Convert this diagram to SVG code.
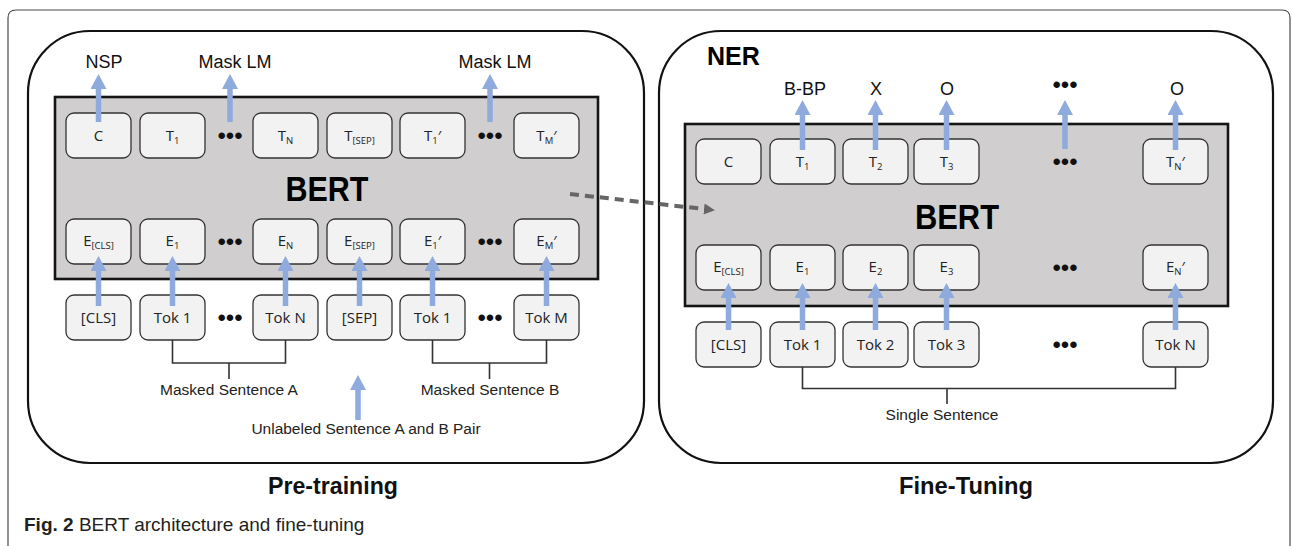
<svg xmlns="http://www.w3.org/2000/svg" width="1292" height="546" viewBox="0 0 1292 546">
  <defs>
    <style>
      .frame { fill: none; stroke: #4a4a4a; stroke-width: 1.2; }
      .panel { fill: #ffffff; stroke: #111111; stroke-width: 2.2; }
      .bert { fill: #d0cece; stroke: #151515; stroke-width: 2.6; }
      .box { fill: #f2f2f2; stroke: #333333; stroke-width: 1.3; }
      .tk { font-family: "Open Sans", "Noto Sans", sans-serif; font-size: 15px; fill: #222222; text-anchor: middle; }
      .sub { font-size: 9.5px; }
      .lbl { font-family: "Liberation Sans", Arial, sans-serif; font-size: 18px; fill: #111111; text-anchor: middle; }
      .sm { font-family: "Liberation Sans", Arial, sans-serif; font-size: 15.5px; fill: #222222; text-anchor: middle; }
      .big { font-family: "Liberation Sans", Arial, sans-serif; font-weight: bold; font-size: 35px; fill: #000000; text-anchor: middle; }
      .title { font-family: "Liberation Sans", Arial, sans-serif; font-weight: bold; font-size: 23.5px; fill: #111111; text-anchor: middle; }
      .ner { font-family: "Liberation Sans", Arial, sans-serif; font-weight: bold; font-size: 25px; fill: #000000; }
      .dots { font-family: "Liberation Sans", Arial, sans-serif; font-size: 24px; fill: #111111; text-anchor: middle; }
      .cap { font-family: "Liberation Sans", Arial, sans-serif; font-size: 19px; fill: #231f20; }
      .arrow { fill: none; stroke: #8faadc; stroke-width: 5.5; marker-end: url(#blueHead); }
      .bracket { fill: none; stroke: #333333; stroke-width: 1.6; }
      .dash { fill: none; stroke: #666666; stroke-width: 4; stroke-dasharray: 9 6; marker-end: url(#grayHead); }
    </style>
    <marker id="blueHead" markerUnits="userSpaceOnUse" markerWidth="15" markerHeight="16" refX="0" refY="8" orient="auto">
      <path d="M0,0 L15,8 L0,16 z" fill="#8faadc"/>
    </marker>
    <marker id="grayHead" markerUnits="userSpaceOnUse" markerWidth="11" markerHeight="11" refX="0" refY="5.5" orient="auto">
      <path d="M0,0 L11,5.5 L0,11 z" fill="#666666"/>
    </marker>
  </defs>

  <!-- figure frame -->
  <path class="frame" d="M8,546 V18 Q8,10 16,10 H1282 Q1290,10 1290,18 V546"/>

  <!-- ===== Pre-training panel ===== -->
  <g id="pretrain-panel">
    <rect class="panel" x="28" y="31" width="616" height="432" rx="62" ry="62"/>
    <text class="title" x="333" y="494" textLength="130" lengthAdjust="spacingAndGlyphs">Pre-training</text>
  </g>

  <g id="pretrain-bert">
    <rect class="bert" x="55" y="97" width="543" height="182"/>
    <text class="big" x="327" y="201" textLength="83" lengthAdjust="spacingAndGlyphs">BERT</text>
  </g>

  <!-- output row -->
  <g id="pt-C"><rect class="box" x="66" y="113" width="65" height="45" rx="8"/><text class="tk" x="98.5" y="141">C</text></g>
  <g id="pt-T1"><rect class="box" x="140" y="113" width="65" height="45" rx="8"/><text class="tk" x="172.5" y="141">T<tspan class="sub" dy="3">1</tspan></text></g>
  <g id="pt-TN"><rect class="box" x="253" y="113" width="65" height="45" rx="8"/><text class="tk" x="285.5" y="141">T<tspan class="sub" dy="3">N</tspan></text></g>
  <g id="pt-TSEP"><rect class="box" x="327" y="113" width="65" height="45" rx="8"/><text class="tk" x="359.5" y="141">T<tspan class="sub" dy="3">[SEP]</tspan></text></g>
  <g id="pt-T1p"><rect class="box" x="400" y="113" width="65" height="45" rx="8"/><text class="tk" x="432.5" y="141">T<tspan class="sub" dy="3">1</tspan><tspan dy="-3">′</tspan></text></g>
  <g id="pt-TMp"><rect class="box" x="514" y="113" width="65" height="45" rx="8"/><text class="tk" x="546.5" y="141">T<tspan class="sub" dy="3">M</tspan><tspan dy="-3">′</tspan></text></g>
  <text class="dots" x="230" y="144">•••</text>
  <text class="dots" x="490" y="144">•••</text>

  <!-- embedding row -->
  <g id="pt-ECLS"><rect class="box" x="66" y="219" width="65" height="45" rx="8"/><text class="tk" x="98.5" y="246">E<tspan class="sub" dy="3">[CLS]</tspan></text></g>
  <g id="pt-E1"><rect class="box" x="140" y="219" width="65" height="45" rx="8"/><text class="tk" x="172.5" y="246">E<tspan class="sub" dy="3">1</tspan></text></g>
  <g id="pt-EN"><rect class="box" x="253" y="219" width="65" height="45" rx="8"/><text class="tk" x="285.5" y="246">E<tspan class="sub" dy="3">N</tspan></text></g>
  <g id="pt-ESEP"><rect class="box" x="327" y="219" width="65" height="45" rx="8"/><text class="tk" x="359.5" y="246">E<tspan class="sub" dy="3">[SEP]</tspan></text></g>
  <g id="pt-E1p"><rect class="box" x="400" y="219" width="65" height="45" rx="8"/><text class="tk" x="432.5" y="246">E<tspan class="sub" dy="3">1</tspan><tspan dy="-3">′</tspan></text></g>
  <g id="pt-EMp"><rect class="box" x="514" y="219" width="65" height="45" rx="8"/><text class="tk" x="546.5" y="246">E<tspan class="sub" dy="3">M</tspan><tspan dy="-3">′</tspan></text></g>
  <text class="dots" x="230" y="250">•••</text>
  <text class="dots" x="490" y="250">•••</text>

  <!-- token row -->
  <g id="pt-CLS"><rect class="box" x="66" y="295" width="65" height="45" rx="8"/><text class="tk" x="98.5" y="323">[CLS]</text></g>
  <g id="pt-Tok1"><rect class="box" x="140" y="295" width="65" height="45" rx="8"/><text class="tk" x="172.5" y="323">Tok 1</text></g>
  <g id="pt-TokN"><rect class="box" x="253" y="295" width="65" height="45" rx="8"/><text class="tk" x="285.5" y="323">Tok N</text></g>
  <g id="pt-SEP"><rect class="box" x="327" y="295" width="65" height="45" rx="8"/><text class="tk" x="359.5" y="323">[SEP]</text></g>
  <g id="pt-Tok1b"><rect class="box" x="400" y="295" width="65" height="45" rx="8"/><text class="tk" x="432.5" y="323">Tok 1</text></g>
  <g id="pt-TokM"><rect class="box" x="514" y="295" width="65" height="45" rx="8"/><text class="tk" x="546.5" y="323">Tok M</text></g>
  <text class="dots" x="230" y="326">•••</text>
  <text class="dots" x="490" y="326">•••</text>

  <!-- pre-training labels -->
  <g id="pt-labels">
    <text class="lbl" x="104" y="68">NSP</text>
    <text class="lbl" x="235" y="68">Mask LM</text>
    <text class="lbl" x="495" y="68">Mask LM</text>
    <text class="sm" x="229" y="395">Masked Sentence A</text>
    <text class="sm" x="490" y="395">Masked Sentence B</text>
    <text class="sm" x="366" y="434">Unlabeled Sentence A and B Pair</text>
  </g>

  <!-- ===== Fine-Tuning panel ===== -->
  <g id="finetune-panel">
    <rect class="panel" x="659" y="31" width="614" height="432" rx="62" ry="62"/>
    <text class="ner" x="707" y="65">NER</text>
    <text class="title" x="966" y="494" textLength="134" lengthAdjust="spacingAndGlyphs">Fine-Tuning</text>
  </g>

  <g id="finetune-bert">
    <rect class="bert" x="685" y="124" width="543" height="182"/>
    <text class="big" x="957" y="229" textLength="84" lengthAdjust="spacingAndGlyphs">BERT</text>
  </g>

  <!-- output row -->
  <g id="ft-C"><rect class="box" x="696" y="139" width="65" height="45" rx="8"/><text class="tk" x="728.5" y="167">C</text></g>
  <g id="ft-T1"><rect class="box" x="770" y="139" width="65" height="45" rx="8"/><text class="tk" x="802.5" y="167">T<tspan class="sub" dy="3">1</tspan></text></g>
  <g id="ft-T2"><rect class="box" x="843" y="139" width="65" height="45" rx="8"/><text class="tk" x="875.5" y="167">T<tspan class="sub" dy="3">2</tspan></text></g>
  <g id="ft-T3"><rect class="box" x="914" y="139" width="65" height="45" rx="8"/><text class="tk" x="946.5" y="167">T<tspan class="sub" dy="3">3</tspan></text></g>
  <g id="ft-TNp"><rect class="box" x="1143" y="139" width="65" height="45" rx="8"/><text class="tk" x="1175.5" y="167">T<tspan class="sub" dy="3">N</tspan><tspan dy="-3">′</tspan></text></g>
  <text class="dots" x="1065" y="170">•••</text>

  <!-- embedding row -->
  <g id="ft-ECLS"><rect class="box" x="696" y="245" width="65" height="45" rx="8"/><text class="tk" x="728.5" y="272">E<tspan class="sub" dy="3">[CLS]</tspan></text></g>
  <g id="ft-E1"><rect class="box" x="770" y="245" width="65" height="45" rx="8"/><text class="tk" x="802.5" y="272">E<tspan class="sub" dy="3">1</tspan></text></g>
  <g id="ft-E2"><rect class="box" x="843" y="245" width="65" height="45" rx="8"/><text class="tk" x="875.5" y="272">E<tspan class="sub" dy="3">2</tspan></text></g>
  <g id="ft-E3"><rect class="box" x="914" y="245" width="65" height="45" rx="8"/><text class="tk" x="946.5" y="272">E<tspan class="sub" dy="3">3</tspan></text></g>
  <g id="ft-ENp"><rect class="box" x="1143" y="245" width="65" height="45" rx="8"/><text class="tk" x="1175.5" y="272">E<tspan class="sub" dy="3">N</tspan><tspan dy="-3">′</tspan></text></g>
  <text class="dots" x="1065" y="276">•••</text>

  <!-- token row -->
  <g id="ft-CLS"><rect class="box" x="696" y="322" width="65" height="45" rx="8"/><text class="tk" x="728.5" y="350">[CLS]</text></g>
  <g id="ft-Tok1"><rect class="box" x="770" y="322" width="65" height="45" rx="8"/><text class="tk" x="802.5" y="350">Tok 1</text></g>
  <g id="ft-Tok2"><rect class="box" x="843" y="322" width="65" height="45" rx="8"/><text class="tk" x="875.5" y="350">Tok 2</text></g>
  <g id="ft-Tok3"><rect class="box" x="914" y="322" width="65" height="45" rx="8"/><text class="tk" x="946.5" y="350">Tok 3</text></g>
  <g id="ft-TokN"><rect class="box" x="1143" y="322" width="65" height="45" rx="8"/><text class="tk" x="1175.5" y="350">Tok N</text></g>
  <text class="dots" x="1065" y="353">•••</text>

  <!-- fine-tuning labels -->
  <g id="ft-labels">
    <text class="lbl" x="805" y="95">B-BP</text>
    <text class="lbl" x="876" y="95">X</text>
    <text class="lbl" x="947" y="95">O</text>
    <text class="dots" x="1065" y="93">•••</text>
    <text class="lbl" x="1177" y="95">O</text>
    <text class="sm" x="942" y="420">Single Sentence</text>
  </g>

  <!-- connectors -->
  <g id="connectors">
    <!-- pre-training outputs -->
    <path class="arrow" d="M98.5,122 V89"/>
    <path class="arrow" d="M230,122 V89"/>
    <path class="arrow" d="M490,122 V89"/>
    <!-- pre-training inputs -->
    <path class="arrow" d="M98.5,306 V271"/>
    <path class="arrow" d="M172.5,306 V271"/>
    <path class="arrow" d="M285.5,306 V271"/>
    <path class="arrow" d="M359.5,306 V271"/>
    <path class="arrow" d="M432.5,306 V271"/>
    <path class="arrow" d="M546.5,306 V271"/>
    <path class="arrow" d="M358,420 V390"/>
    <!-- sentence brackets -->
    <path class="bracket" d="M172.5,340 V363 H285.5 V340 M229,363 V379"/>
    <path class="bracket" d="M432.5,340 V363 H546.5 V340 M489.5,363 V379"/>
    <path class="bracket" d="M802.5,367 V388.5 H1175.5 V367 M947,388.5 V404"/>
    <!-- fine-tuning outputs -->
    <path class="arrow" d="M802.5,150 V115"/>
    <path class="arrow" d="M875.5,150 V115"/>
    <path class="arrow" d="M946.5,150 V115"/>
    <path class="arrow" d="M1065,149 V115"/>
    <path class="arrow" d="M1175.5,150 V115"/>
    <!-- fine-tuning inputs -->
    <path class="arrow" d="M728.5,330 V298"/>
    <path class="arrow" d="M802.5,330 V298"/>
    <path class="arrow" d="M875.5,330 V298"/>
    <path class="arrow" d="M946.5,330 V298"/>
    <path class="arrow" d="M1175.5,330 V298"/>
    <!-- weight transfer -->
    <path class="dash" d="M570,194 L704,209"/>
  </g>

  <!-- caption -->
  <text class="cap" x="24" y="531"><tspan font-weight="bold">Fig. 2</tspan> BERT architecture and fine-tuning</text>
</svg>
